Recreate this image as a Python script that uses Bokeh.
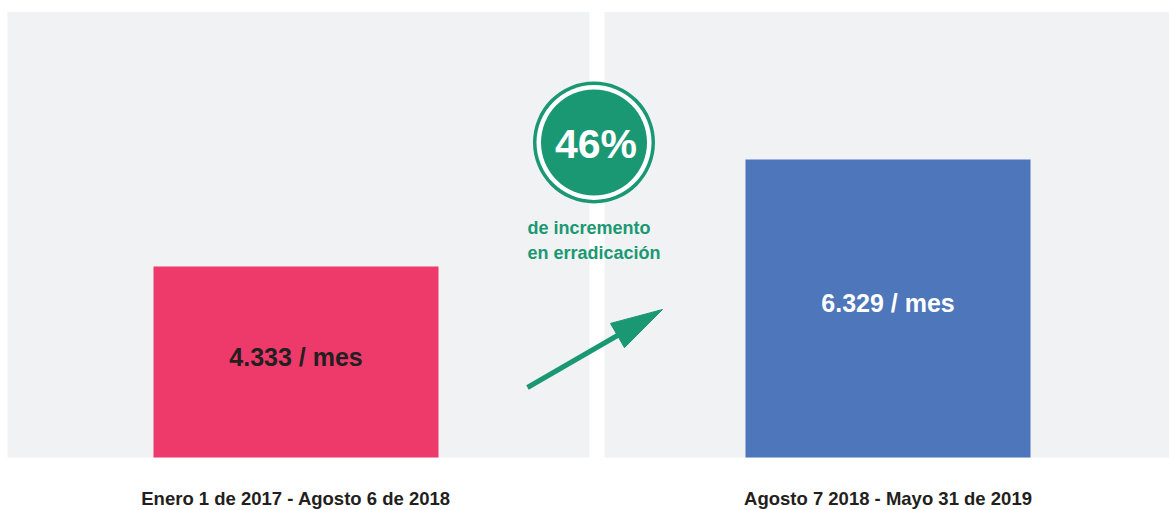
from bokeh.plotting import figure
from bokeh.models import Range1d
from bokeh.core.properties import value
from bokeh.embed import file_html
from bokeh.resources import INLINE

# ---------------- data ----------------
periods = ["Enero 1 de 2017 - Agosto 6 de 2018", "Agosto 7 2018 - Mayo 31 de 2019"]
rates = [4333, 6329]
rate_labels = ["4.333 / mes", "6.329 / mes"]
caption = ["de incremento", "en erradicación"]
increase_pct = round((rates[1] / rates[0] - 1) * 100)

# ---------------- styles / layout ----------------
bar_colors = ["#ee3a6b", "#4e76ba"]
label_colors = ["#231f20", "#ffffff"]
GREEN = "#1a9873"
PANEL = "#f1f2f4"
FONT = value("Liberation Sans")

W, H = 1169, 510
PAGE_X0, PAGE_Y0 = 0, 0
CAT_PX = 592.0          # pixels between category centres
CAT0_PAGE_X = 295.5     # page x of first category centre
BASE_PAGE_Y = 457.0     # page y of bar baseline
PX_PER_UNIT = 0.053607  # vertical pixels per unit of value
BASELINE = 770

x_start = (PAGE_X0 - CAT0_PAGE_X) / CAT_PX
x_end = (PAGE_X0 + W - CAT0_PAGE_X) / CAT_PX
y_start = BASELINE - (PAGE_Y0 + H - BASE_PAGE_Y) / PX_PER_UNIT
y_end = BASELINE + (BASE_PAGE_Y - PAGE_Y0) / PX_PER_UNIT

p = figure(width=W, height=H, x_range=Range1d(x_start, x_end), y_range=Range1d(y_start, y_end),
           output_backend="svg", toolbar_location=None, min_border=0)
p.extra_x_ranges = {"px": Range1d(PAGE_X0, PAGE_X0 + W)}
p.extra_y_ranges = {"px": Range1d(PAGE_Y0 + H, PAGE_Y0)}
p.axis.visible = False
p.grid.visible = False
p.outline_line_color = None
p.background_fill_color = "white"
p.border_fill_color = "white"

# grey panels behind each period
panel_top = BASELINE + (BASE_PAGE_Y - 11.5) / PX_PER_UNIT
left_edge = (7 - CAT0_PAGE_X) / CAT_PX
gap_c, gap_half = 0.5084, 0.0127
p.quad(left=[left_edge, gap_c + gap_half], right=[gap_c - gap_half, x_end],
       bottom=BASELINE, top=panel_top, fill_color=PANEL, line_color=None)

# bars
idx = list(range(len(rates)))
p.vbar(x=idx, width=285 / CAT_PX, bottom=BASELINE, top=rates,
       fill_color=bar_colors, line_color=None)

# bar labels
p.text(x=idx, y=[(BASELINE + v) / 2 + 5 / PX_PER_UNIT for v in rates], text=rate_labels,
       text_align="center", text_baseline="middle", text_font=FONT,
       text_font_style="bold", text_font_size="25px", text_color=label_colors)

# period labels
p.text(x=idx, y=[BASELINE - (498 - BASE_PAGE_Y) / PX_PER_UNIT] * 2, text=periods,
       text_align="center", text_baseline="middle", text_font=FONT,
       text_font_style="bold", text_font_size="18.5px", text_color="#231f20")

# badge
cx, cy = 593.5, 142
p.scatter(x=[cx] * 3, y=[cy] * 3, size=[122, 115, 106], marker="circle",
          fill_color=[GREEN, "white", GREEN], line_color=None,
          x_range_name="px", y_range_name="px")
p.text(x=[cx + 2], y=[cy + 1], text=[f"{increase_pct}%"], text_align="center",
       text_baseline="middle", text_font=FONT, text_font_style="bold",
       text_font_size="41px", text_color="white", x_range_name="px", y_range_name="px")
p.text(x=[527, 527], y=[227, 252], text=caption, text_align="left",
       text_baseline="middle", text_font=FONT, text_font_style="bold",
       text_font_size="18px", text_color=GREEN, x_range_name="px", y_range_name="px")

# arrow
tail = (527.0, 387.0)
tip = (662.0, 309.0)
head_len, head_w = 52.0, 28.0
dx, dy = tip[0] - tail[0], tip[1] - tail[1]
L = (dx * dx + dy * dy) ** 0.5
ux, uy = dx / L, dy / L
bx, by = tip[0] - head_len * ux, tip[1] - head_len * uy
px_, py_ = -uy, ux
p.segment(x0=[tail[0]], y0=[tail[1]], x1=[bx + 2 * ux], y1=[by + 2 * uy],
          line_color=GREEN, line_width=5, x_range_name="px", y_range_name="px")
p.patch(x=[tip[0], bx + head_w / 2 * px_, bx - head_w / 2 * px_],
        y=[tip[1], by + head_w / 2 * py_, by - head_w / 2 * py_],
        fill_color=GREEN, line_color=GREEN, line_width=1,
        x_range_name="px", y_range_name="px")

open("out.html", "w").write(file_html(p, INLINE))
